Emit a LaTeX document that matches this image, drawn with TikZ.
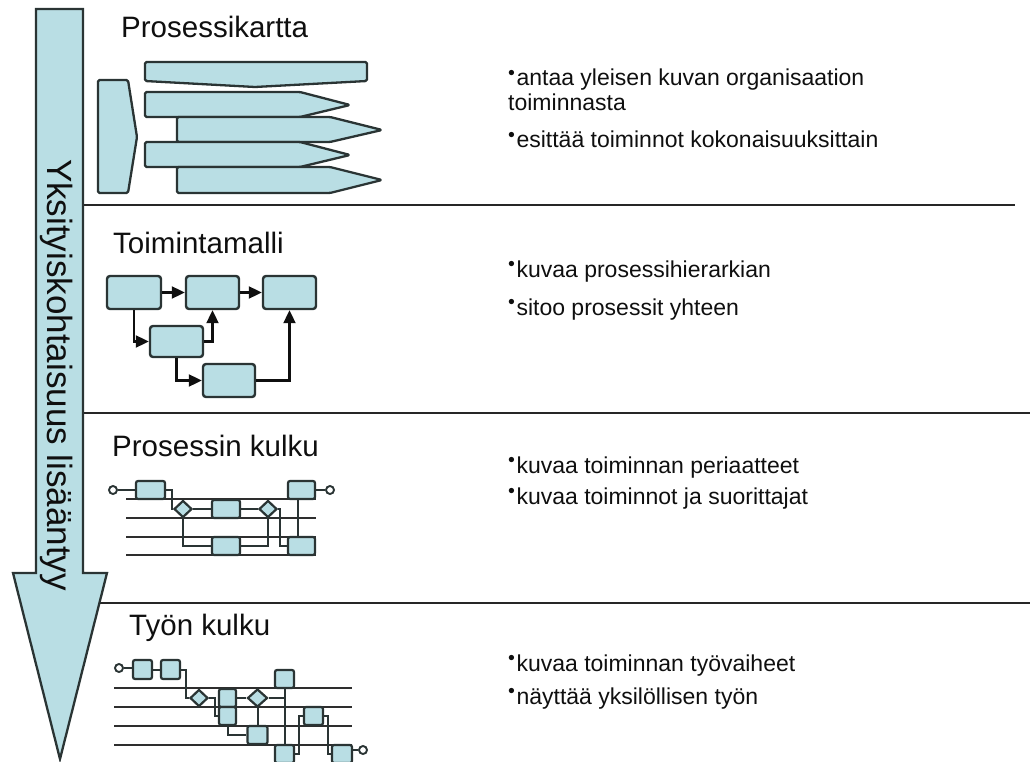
\documentclass[tikz,border=0pt]{standalone}
\usepackage{fontspec}
\setmainfont{Liberation Sans}
\usetikzlibrary{shapes.geometric,arrows.meta}
\definecolor{paleblue}{RGB}{185,222,228}
\definecolor{edgegray}{RGB}{42,52,52}
\definecolor{inkblack}{RGB}{15,15,15}
\newcommand\bul{\raisebox{0.28em}{\scalebox{0.85}{•}}\kern1.5pt}

\begin{document}
\begin{tikzpicture}[x=1pt,y=-1pt,
  blockshape/.style={fill=paleblue,draw=edgegray,line width=2.3pt,rounded corners=1.5pt,line join=round},
  box/.style={rectangle,fill=paleblue,draw=edgegray,line width=2.4pt,rounded corners=3pt,inner sep=0pt},
  sbox/.style={box,rounded corners=2pt,line width=2.2pt},
  gate/.style={diamond,fill=paleblue,draw=edgegray,line width=2.2pt,inner sep=0pt,minimum width=18pt,minimum height=17pt},
  port/.style={circle,draw=edgegray,fill=white,line width=1.9pt,minimum size=8pt,inner sep=0pt},
  flow/.style={draw=inkblack,line width=2.1pt,-{Triangle[length=13pt,width=12pt]}},
  wire/.style={draw=edgegray,line width=2pt},
  lane/.style={draw=black!82,line width=2.6pt},
  sep/.style={draw=black!85,line width=1.8pt},
  title/.style={font=\fontsize{29.5}{33}\selectfont,anchor=base west,inner sep=0pt,text=inkblack},
  note/.style={font=\fontsize{23}{27}\selectfont,anchor=base west,inner sep=0pt,text=inkblack}
]
\useasboundingbox (0,0) rectangle (1030,762);

% section separators
\draw[sep] (83,205) -- (1015,205);
\draw[sep] (83,413) -- (1030,413);
\draw[sep] (90,603) -- (1030,603);

% big downward arrow
\draw[blockshape,rounded corners=0pt,line join=miter]
  (36,9) -- (83,9) -- (83,573) -- (107,573) -- (60,759) -- (13,573) -- (36,573) -- cycle;
\node[rotate=-90,font=\fontsize{35}{38}\selectfont,text=inkblack,inner sep=0pt] (axis) at (57,375)
  {Yksityiskohtaisuus lisääntyy};

% ---- Prosessikartta ----
\node[title] (h1) at (121,38) {Prosessikartta};
\draw[blockshape] (145,62) -- (367,62) -- (367,81) -- (255,87) -- (145,81) -- cycle;
\draw[blockshape] (98,80) -- (128,80) -- (137,137) -- (128,193) -- (98,193) -- cycle;
\draw[blockshape] (145,92) -- (300,92) -- (350,105) -- (300,117) -- (145,117) -- cycle;
\draw[blockshape] (177,117) -- (330,117) -- (382,130) -- (330,142) -- (177,142) -- cycle;
\draw[blockshape] (145,142) -- (300,142) -- (350,155) -- (300,167) -- (145,167) -- cycle;
\draw[blockshape] (177,167) -- (330,167) -- (382,180) -- (330,193) -- (177,193) -- cycle;

\node[note] (n1a) at (508,86) {\bul antaa yleisen kuvan organisaation};
\node[note] (n1b) at (508,111) {toiminnasta};
\node[note] (n1c) at (508,148) {\bul esittää toiminnot kokonaisuuksittain};

% ---- Toimintamalli ----
\node[title] (h2) at (113,253) {Toimintamalli};
\node[box,minimum width=54pt,minimum height=33pt] (A) at (134,292.5) {};
\node[box,minimum width=53pt,minimum height=33pt] (B) at (212.5,292.5) {};
\node[box,minimum width=53pt,minimum height=33pt] (C) at (289.5,292.5) {};
\node[box,minimum width=53pt,minimum height=31pt] (D) at (176.5,341.5) {};
\node[box,minimum width=52pt,minimum height=33pt] (E) at (229,380.5) {};
\draw[flow] (A.east) -- (B.west);
\draw[flow] (B.east) -- (C.west);
\draw[flow] (A.south) |- (D.west);
\draw[flow] (D.east) -| (B.south);
\draw[flow] (D.south) |- (E.west);
\draw[flow] (E.east) -| (C.south);

\node[note] (n2a) at (508,277) {\bul kuvaa prosessihierarkian};
\node[note] (n2b) at (508,315) {\bul sitoo prosessit yhteen};

% ---- Prosessin kulku ----
\node[title] (h3) at (112,456) {Prosessin kulku};
\foreach \y in {499,518,537,555} \draw[lane] (126,\y) -- (316,\y);
\node[sbox,minimum width=29pt,minimum height=18pt] (p1) at (150.5,490) {};
\node[sbox,minimum width=28pt,minimum height=18pt] (p2) at (226,509) {};
\node[sbox,minimum width=28pt,minimum height=18pt] (p3) at (226,546) {};
\node[sbox,minimum width=27pt,minimum height=18pt] (p4) at (301.5,490) {};
\node[sbox,minimum width=27pt,minimum height=18pt] (p5) at (301.5,546) {};
\node[gate] (d1) at (183,509) {};
\node[gate] (d2) at (268,509) {};
\node[port] (c1) at (113,490) {};
\node[port] (c2) at (330,490) {};
\draw[wire] (c1.east) -- (p1.west);
\draw[wire] (p1.east) -- ++(6,0) |- (d1.west);
\draw[wire] (d1.east) -- (p2.west);
\draw[wire] (d1.south) |- (p3.west);
\draw[wire] (p2.east) -- (d2.west);
\draw[wire] (p3.east) -| (d2.south);
\draw[wire] (d2.east) -- ++(2,0) |- (p5.west);
\draw[wire] ([xshift=-3.5pt]p5.north) -- ([xshift=-3.5pt]p4.south);
\draw[wire] (p4.east) -- (c2.west);

\node[note] (n3a) at (508,473) {\bul kuvaa toiminnan periaatteet};
\node[note] (n3b) at (508,504) {\bul kuvaa toiminnot ja suorittajat};

% ---- Työn kulku ----
\node[title] (h4) at (129,635) {Työn kulku};
\foreach \y in {688,707,726,745} \draw[lane] (114,\y) -- (352,\y);
\node[sbox,minimum width=19pt,minimum height=19pt] (q1) at (142.5,669.5) {};
\node[sbox,minimum width=19pt,minimum height=19pt] (q2) at (170.5,669.5) {};
\node[sbox,minimum width=17pt,minimum height=18pt] (q3a) at (227.5,698) {};
\node[sbox,minimum width=17pt,minimum height=18pt] (q3b) at (227.5,716) {};
\node[sbox,minimum width=20pt,minimum height=18pt] (q4) at (257.5,735) {};
\node[sbox,minimum width=19pt,minimum height=18pt] (q5) at (284.5,679) {};
\node[sbox,minimum width=19pt,minimum height=18pt] (q6) at (284.5,754) {};
\node[sbox,minimum width=19pt,minimum height=18pt] (q7) at (313.5,716) {};
\node[sbox,minimum width=20pt,minimum height=18pt] (q8) at (342,754) {};
\node[gate] (e1) at (199,698) {};
\node[gate,minimum width=20pt,minimum height=18pt] (e2) at (257.5,698) {};
\node[port] (w1) at (119,668) {};
\node[port] (w2) at (363,750) {};
\draw[wire] (w1.east) -- (w1.east -| q1.west);
\draw[wire] (q1.east) -- (q2.west);
\draw[wire] (q2.east) -- ++(5,0) |- (e1.west);
\draw[wire] (e1.east) -- ++(6,0) |- (q3b.west);
\draw[wire] (q3a.east) -- (e2.west);
\draw[wire] (e2.south) -- (q4.north);
\draw[wire] (q3b.south) |- (q4.west);
\draw[wire] (e2.east) -- (e2.east -| q5.south);
\draw[wire] (q5.south) -- (q6.north);
\draw[wire] (q6.east) -- ++(4,0) |- (q7.west);
\draw[wire] (q7.east) -- ++(4,0) |- (q8.west);
\draw[wire] (w2.west) -- (w2.west -| q8.east);

\node[note] (n4a) at (508,671) {\bul kuvaa toiminnan työvaiheet};
\node[note] (n4b) at (508,704) {\bul näyttää yksilöllisen työn};
\end{tikzpicture}
\end{document}
